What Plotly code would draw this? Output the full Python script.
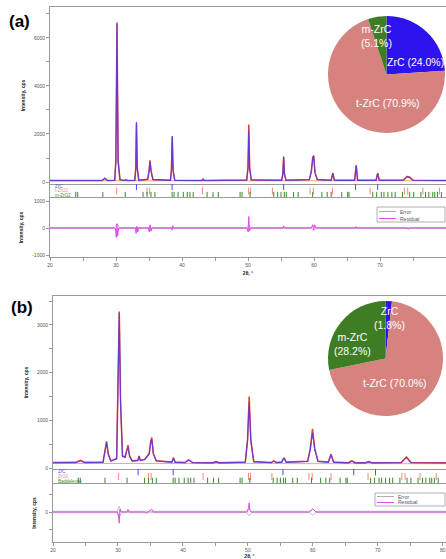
import plotly.graph_objects as go

# ---------------- DATA ----------------
# Panel (a): observed / calculated XRD pattern (2theta, cps)
a_x = [20.0, 23.8, 24.1, 24.4, 27.9, 28.3, 28.7, 29.8, 29.98, 30.15, 30.32, 30.6, 31.2, 31.5, 31.8,
       32.85, 33.0, 33.1, 33.22, 33.45, 34.8, 35.0, 35.15, 35.32, 35.6, 38.25, 38.4, 38.52, 38.65, 38.9,
       43.0, 43.2, 43.4, 49.8, 50.0, 50.12, 50.25, 50.5, 55.1, 55.28, 55.4, 55.52, 55.75,
       59.3, 59.6, 59.8, 59.95, 60.15, 60.5, 62.6, 62.85, 63.1, 66.15, 66.4, 66.6,
       69.4, 69.65, 69.9, 73.5, 74.1, 74.4, 75.0, 80.0]
a_obs = [62, 62, 70, 62, 65, 160, 65, 70, 900, 6600, 900, 100, 65, 90, 65,
         70, 600, 2450, 600, 70, 110, 450, 900, 450, 100, 70, 500, 1900, 500, 70,
         62, 120, 62, 80, 600, 2400, 600, 90, 70, 350, 1050, 350, 70,
         100, 450, 1000, 1100, 400, 100, 70, 370, 70, 70, 700, 70,
         70, 370, 70, 75, 230, 220, 75, 62]
a_calc = [60, 60, 66, 60, 62, 150, 62, 66, 850, 6650, 850, 95, 62, 85, 62,
          68, 550, 2500, 550, 68, 110, 430, 850, 430, 100, 68, 480, 1920, 480, 68,
          60, 115, 60, 78, 560, 2150, 560, 85, 68, 330, 1060, 330, 68,
          95, 430, 980, 1080, 390, 95, 68, 360, 68, 68, 690, 68,
          68, 360, 68, 72, 220, 210, 72, 60]
a_bg_x = [20.0, 80.0]
a_bg_y = [50, 50]
a_res_x = [20.0, 29.9, 30.05, 30.15, 30.25, 30.4, 32.95, 33.05, 33.15, 33.3, 33.45, 34.9, 35.05, 35.15,
           35.3, 35.45, 38.4, 38.5, 38.6, 38.7, 49.9, 50.02, 50.12, 50.22, 50.4, 55.3, 55.4, 55.5,
           59.6, 59.8, 59.95, 60.1, 60.3, 66.3, 66.4, 66.5, 74.0, 74.3, 74.6, 80.0]
a_res_y = [0, 0, -350, 150, -300, 0, 0, -200, 60, -150, 0, 0, -150, 120,
           -120, 0, 0, -80, 80, 0, 0, -150, 430, -110, 0, 0, 80, 0,
           0, 120, -80, 120, 0, 0, 50, 0, 0, -40, 0, 0]
a_err_x = [20.0, 29.8, 30.15, 30.5, 49.85, 50.12, 50.4, 59.6, 59.95, 60.3, 80.0]
a_err_y = [20, 20, 170, 20, 20, 110, 20, 20, 80, 20, 20]

# Panel (b)
b_x = [20.0, 23.5, 24.2, 24.9, 27.7, 28.0, 28.25, 28.5, 28.9, 29.8, 30.0, 30.2, 30.4, 30.7, 31.1,
       31.35, 31.55, 31.8, 32.2, 33.05, 33.25, 33.45, 34.1, 34.4, 34.8, 35.05, 35.2, 35.45, 35.9,
       38.3, 38.55, 38.8, 40.3, 40.9, 41.5, 44.6, 45.1, 45.6, 49.6, 49.95, 50.2, 50.45, 50.9,
       53.6, 54.0, 54.4, 55.2, 55.55, 55.9, 59.2, 59.6, 59.95, 60.3, 60.8, 62.4, 62.8, 63.2,
       65.5, 66.0, 66.5, 68.1, 68.6, 69.1, 73.6, 74.4, 75.1, 80.5]
b_obs = [115, 118, 160, 118, 125, 350, 560, 300, 150, 200, 1500, 3280, 1400, 250, 230,
         400, 480, 250, 150, 160, 250, 160, 180, 230, 300, 560, 640, 300, 150,
         125, 215, 125, 115, 170, 115, 112, 135, 112, 125, 600, 1500, 600, 135,
         115, 150, 115, 125, 215, 125, 140, 400, 820, 400, 140, 125, 290, 125,
         112, 150, 112, 112, 135, 112, 115, 230, 115, 110]
b_calc = [110, 112, 152, 112, 118, 330, 540, 290, 140, 190, 1450, 3250, 1350, 240, 220,
          370, 410, 240, 145, 155, 245, 155, 175, 220, 290, 540, 600, 290, 145,
          118, 210, 118, 110, 165, 110, 108, 128, 108, 118, 560, 1380, 560, 128,
          110, 145, 110, 118, 210, 118, 135, 380, 730, 380, 135, 118, 280, 118,
          108, 145, 108, 108, 128, 108, 110, 225, 110, 105]
b_bg_x = [20.0, 80.5]
b_bg_y = [95, 90]
b_res_x = [20.0, 29.95, 30.1, 30.2, 30.3, 30.45, 31.4, 31.55, 31.7, 34.2, 34.4, 34.6, 35.2, 35.4,
           49.9, 50.1, 50.2, 50.3, 50.5, 59.5, 59.8, 60.0, 60.2, 60.5, 80.5]
b_res_y = [0, 0, -150, -320, 80, 0, 0, 70, 0, 0, -40, 0, 80, 0,
           0, 120, 260, 50, 0, 0, 60, 90, 50, 0, 0]
b_err_x = [20.0, 29.9, 30.2, 30.5, 49.85, 50.2, 50.55, 59.5, 59.95, 60.4, 80.5]
b_err_y = [20, 20, 170, 20, 20, 110, 20, 20, 90, 20, 20]

# Reflection tick positions (2theta)
zrc_ticks = [33.1, 38.5, 55.4, 66.3, 69.65]
tzro2_ticks = [30.1, 34.7, 35.1, 43.1, 50.1, 50.4, 53.7, 59.4, 59.9, 62.8, 68.5, 73.7, 74.2, 76.5, 79.0]
mzro2_ticks = [23.9, 24.2, 28.0, 31.4, 34.1, 34.7, 35.3, 35.9, 38.5, 38.8, 39.4, 40.2, 40.8, 41.2, 41.7,
               43.8, 44.7, 45.5, 48.8, 49.1, 50.3, 53.9, 54.5, 55.0, 55.5, 55.8, 56.9, 57.6, 59.8,
               61.2, 62.0, 62.6, 64.2, 65.1, 65.3, 68.9, 69.5, 70.2, 70.6, 71.2, 71.8, 72.3, 73.4,
               74.5, 75.1, 76.2, 76.9, 77.4, 78.0, 78.3, 78.7, 79.3]
a_phase_names = ["ZrC", "t-ZrO2", "m-ZrO2"]
b_phase_names = ["ZrC", "ZrO2", "Baddeleyite"]

# Pie data (phase fractions, %)
pie_labels = ["ZrC", "t-ZrC", "m-ZrC"]
a_pie_values = [24.0, 70.9, 5.1]
b_pie_values = [1.8, 70.0, 28.2]

x_tick_vals = [20, 25, 30, 35, 40, 45, 50, 55, 60, 65, 70, 75, 80]
x_tick_text = ["20", "", "30", "", "40", "", "50", "", "60", "", "70", "", "80"]
a_main_tv = [0, 1000, 2000, 3000, 4000, 5000, 6000, 7000]
a_main_tt = ["0", "", "2000", "", "4000", "", "6000", ""]
a_res_tv = [-1000, 0, 1000]
a_res_tt = ["-1000", "0", "1000"]
b_main_tv = [0, 500, 1000, 1500, 2000, 2500, 3000, 3500]
b_main_tt = ["0", "", "1000", "", "2000", "", "3000", ""]
b_res_tv = [-500, 0, 500]
b_res_tt = ["", "0", ""]

# ---------------- STYLE ----------------
W, H = 446, 559
FONT = "Liberation Sans, Arial, sans-serif"
C_OBS = "#f03a2e"
C_CALC = "#4a3cf5"
C_BG = "#f4b24a"
C_RES = "#e04ae8"
C_ERR = "#b0b0b0"
C_ZRC = "#4b4bff"
C_T = "#f08a7a"
C_M = "#3a8a2a"
AX = "#9a9a9a"
TICKF = dict(size=5, color="#555555", family=FONT)


def fx(p):
    return p / W


def fy(p):
    return 1 - p / H


fig = go.Figure()


def add_panel(n, xs, obs, calc, bgx, bgy, rx, ry, ex, ey):
    xa = ["x%d" % (3 * n + k) if 3 * n + k > 1 else "x" for k in (1, 2, 3)]
    ya = ["y%d" % (3 * n + k) if 3 * n + k > 1 else "y" for k in (1, 2, 3)]
    fig.add_trace(go.Scatter(x=bgx, y=bgy, mode="lines", line=dict(color=C_BG, width=1),
                             xaxis=xa[0], yaxis=ya[0], showlegend=False, hoverinfo="skip"))
    fig.add_trace(go.Scatter(x=xs, y=obs, mode="lines", line=dict(color=C_OBS, width=1.5),
                             xaxis=xa[0], yaxis=ya[0], showlegend=False))
    fig.add_trace(go.Scatter(x=xs, y=calc, mode="lines", line=dict(color=C_CALC, width=1.1),
                             xaxis=xa[0], yaxis=ya[0], opacity=0.85, showlegend=False))
    for row, (tk, col) in enumerate(zip([zrc_ticks, tzro2_ticks, mzro2_ticks], [C_ZRC, C_T, C_M])):
        fig.add_trace(go.Scatter(x=tk, y=[3 - row] * len(tk), mode="markers",
                                 marker=dict(symbol="line-ns", size=5, line=dict(color=col, width=1)),
                                 xaxis=xa[1], yaxis=ya[1], showlegend=False, hoverinfo="skip"))
    fig.add_trace(go.Scatter(x=ex, y=ey, mode="lines", line=dict(color=C_ERR, width=0.8),
                             xaxis=xa[2], yaxis=ya[2], showlegend=False, hoverinfo="skip"))
    fig.add_trace(go.Scatter(x=ex, y=[-v for v in ey], mode="lines", line=dict(color=C_ERR, width=0.8),
                             xaxis=xa[2], yaxis=ya[2], showlegend=False, hoverinfo="skip"))
    fig.add_trace(go.Scatter(x=rx, y=ry, mode="lines", line=dict(color=C_RES, width=1),
                             xaxis=xa[2], yaxis=ya[2], showlegend=False))
    return xa, ya


xa_a, ya_a = add_panel(0, a_x, a_obs, a_calc, a_bg_x, a_bg_y, a_res_x, a_res_y, a_err_x, a_err_y)
xa_b, ya_b = add_panel(1, b_x, b_obs, b_calc, b_bg_x, b_bg_y, b_res_x, b_res_y, b_err_x, b_err_y)

# pies
for vals, dom in [(a_pie_values, (328, 445, 16, 133)), (b_pie_values, (328, 443, 301, 416))]:
    fig.add_trace(go.Pie(labels=pie_labels, values=vals, sort=False, direction="clockwise", rotation=0,
                         marker=dict(colors=["#2d14ee", "#d6837f", "#3e7d23"], line=dict(width=0)),
                         textinfo="none", hoverinfo="skip", showlegend=False,
                         domain=dict(x=[fx(dom[0]), fx(dom[1])], y=[fy(dom[3]), fy(dom[2])])))

layout = dict(width=W, height=H, margin=dict(l=0, r=0, t=0, b=0), paper_bgcolor="white",
              plot_bgcolor="white", font=dict(family=FONT), showlegend=False)

ytitle = dict(text="<b>Intensity, cps</b>", font=dict(size=5, color="#222222", family=FONT), standoff=8)


def set_axes(xa, ya, xdom, xrange, doms, mainrange, restrange, mtv, mtt, rtv, rtt):
    names_x = [a.replace("x", "xaxis") if a != "x" else "xaxis" for a in xa]
    names_y = [a.replace("y", "yaxis") if a != "y" else "yaxis" for a in ya]
    dom_main, dom_tick, dom_res = doms
    base_x = dict(domain=xdom, range=xrange, showgrid=False, zeroline=False, automargin=False,
                  linecolor=AX, linewidth=1)
    layout[names_x[0]] = dict(base_x, anchor=ya[0], showline=True, mirror=True, ticks="",
                              showticklabels=False)
    layout[names_x[1]] = dict(base_x, anchor=ya[1], showline=False, ticks="", showticklabels=False)
    layout[names_x[2]] = dict(base_x, anchor=ya[2], showline=True, mirror=True, ticks="outside",
                              ticklen=3, tickcolor=AX, tickvals=x_tick_vals, ticktext=x_tick_text,
                              tickfont=TICKF,
                              title=dict(text="<b>2θ, °</b>", font=dict(size=5, color="#222222", family=FONT),
                                         standoff=4))
    base_y = dict(showgrid=False, zeroline=False, automargin=False, showline=True, linecolor=AX,
                  linewidth=1, ticks="outside", ticklen=3, tickcolor=AX, tickfont=TICKF)
    layout[names_y[0]] = dict(base_y, anchor=xa[0], domain=[fy(dom_main[1]), fy(dom_main[0])],
                              range=mainrange, tickvals=mtv, ticktext=mtt, title=ytitle)
    layout[names_y[1]] = dict(base_y, anchor=xa[1], domain=[fy(dom_tick[1]), fy(dom_tick[0])],
                              range=[0.4, 3.6], ticks="", showticklabels=False)
    layout[names_y[2]] = dict(base_y, anchor=xa[2], domain=[fy(dom_res[1]), fy(dom_res[0])],
                              range=restrange, tickvals=rtv, ticktext=rtt, title=ytitle)


set_axes(xa_a, ya_a, [fx(50), 1.0], [20, 80], ((7, 184), (184, 198), (198, 257)),
         [-83, 7290], [-1074, 1111], a_main_tv, a_main_tt, a_res_tv, a_res_tt)
set_axes(xa_b, ya_b, [fx(53), 1.0], [20, 80.5], ((296, 469), (469, 484), (484, 542)),
         [-21, 3606], [-857, 800], b_main_tv, b_main_tt, b_res_tv, b_res_tt)

annotations = []
shapes = []
# panel letters
for txt, (px_, py_) in [("<b>(a)</b>", (19, 21)), ("<b>(b)</b>", (22, 308))]:
    annotations.append(dict(text=txt, x=fx(px_), y=fy(py_), xref="paper", yref="paper",
                            xanchor="center", yanchor="middle", showarrow=False,
                            font=dict(size=17, color="black", family=FONT)))

# phase row labels
for xa, ya, names in [(xa_a, ya_a, a_phase_names), (xa_b, ya_b, b_phase_names)]:
    for row, (nm, col) in enumerate(zip(names, [C_ZRC, C_T, C_M])):
        annotations.append(dict(text=nm, x=20.4, y=3 - row, xref=xa[1], yref=ya[1], xanchor="left",
                                yanchor="middle", showarrow=False,
                                font=dict(size=4.5, color=col, family=FONT)))

# manual legends
for box, l1, l2 in [((377, 446, 207, 222), 211.5, 218.5), ((375, 446, 493, 506), 496.5, 502.5)]:
    shapes.append(dict(type="rect", xref="paper", yref="paper", x0=fx(box[0]), x1=fx(box[1] - 1),
                       y0=fy(box[3]), y1=fy(box[2]), line=dict(color="#b0b0b0", width=1),
                       fillcolor="white", layer="above"))
    for yy, col, nm in [(l1, C_ERR, "Error"), (l2, C_RES, "Residual")]:
        shapes.append(dict(type="line", xref="paper", yref="paper", x0=fx(box[0] + 2), x1=fx(box[0] + 19),
                           y0=fy(yy), y1=fy(yy), line=dict(color=col, width=1), layer="above"))
        annotations.append(dict(text=nm, x=fx(box[0] + 21), y=fy(yy), xref="paper", yref="paper",
                                xanchor="left", yanchor="middle", showarrow=False,
                                font=dict(size=5, color="#555555", family=FONT)))

# pie labels
for vals, pos, two_line in [(a_pie_values, [(415, 62), (388, 103), (376, 36)], [False, False, True]),
                            (b_pie_values, [(389, 318), (395, 383), (352, 344)], [True, False, True])]:
    for i, ((px_, py_), tl) in enumerate(zip(pos, two_line)):
        sep = "<br>" if tl else " "
        txt = "%s%s(%.1f%%)" % (pie_labels[i], sep, vals[i])
        annotations.append(dict(text=txt, x=fx(px_), y=fy(py_), xref="paper", yref="paper",
                                xanchor="center", yanchor="middle", showarrow=False,
                                font=dict(size=10.5, color="white", family=FONT)))

layout["annotations"] = annotations
layout["shapes"] = shapes
fig.update_layout(**layout)
fig.write_html("out.html", config={"displayModeBar": False},
               post_script="document.body.style.margin='0px';document.body.style.overflow='hidden';")
